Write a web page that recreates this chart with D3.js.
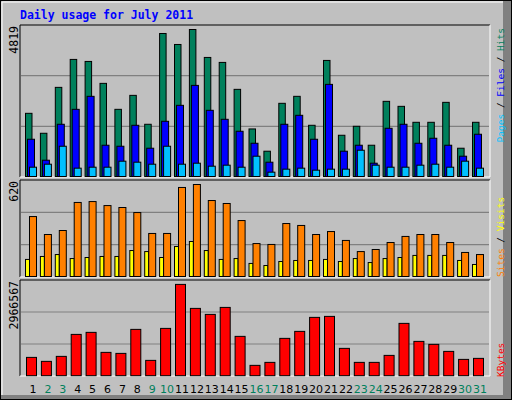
<!DOCTYPE html>
<html><head><meta charset="utf-8">
<script src="https://cdn.jsdelivr.net/npm/d3@7"></script>
<style>body{margin:0;background:#fff}</style></head>
<body><svg id="c" width="512" height="400"></svg>
<script>
const days = d3.range(1, 32);
const weekend = [2,3,9,10,16,17,23,24,30,31];
const hits = [2071,1417,2922,3838,3772,3053,2202,2660,1712,4688,4328,4819,3903,3740,2857,1559,829,2399,2628,1679,3805,1352,1646,1025,2464,2300,1777,1777,2431,927,1777];
const files = [1221,534,1712,2202,2628,1025,992,1679,927,1810,2333,2987,2170,1875,1483,1090,469,1712,2006,1221,3020,829,1025,436,1581,1712,1090,1254,1025,665,1385];
const pages = [305,403,992,273,305,305,502,469,403,992,403,436,338,371,305,665,142,240,273,207,240,240,861,371,305,305,371,403,305,502,273];
const visits = [404,283,310,499,505,478,465,431,290,290,600,620,512,492,377,222,216,357,344,283,303,243,168,182,229,270,283,283,229,162,148];
const sites = [115,135,148,121,128,135,135,175,168,128,202,236,175,115,121,88,74,101,108,108,115,101,121,94,121,128,142,142,142,108,81];
const kbytes = [595000,466000,628000,1342000,1408000,758000,725000,1505000,498000,1537000,2966567,2187000,1992000,2219000,1278000,336000,433000,1213000,1440000,1895000,1927000,888000,433000,433000,660000,1700000,1115000,1018000,790000,530000,563000];
const maxLabels = ["4819","620","2966567"];

const svg = d3.select("#c");
// frame
svg.append("rect").attr("x",0.5).attr("y",0.5).attr("width",511).attr("height",399).attr("fill","#c0c0c0").attr("stroke","#000");
svg.append("rect").attr("x",503).attr("y",1).attr("width",8).attr("height",398).attr("fill","#808080");
svg.append("rect").attr("x",1).attr("y",395).attr("width",510).attr("height",4).attr("fill","#808080");
svg.append("path").attr("d","M2,395V2H503").attr("stroke","#fff").attr("fill","none");
svg.append("text").attr("x",20).attr("y",19).text("Daily usage for July 2011")
  .attr("font-family","DejaVu Sans Mono").attr("font-weight","bold").attr("font-size",11.5).attr("fill","#0000ff");

const x = d3.scaleLinear().domain([1,31]).range([33,480]);
const panels = [
  {top:25,bottom:177,base:176.5,h:147,max:4819},
  {top:180,bottom:277,base:276.5,h:92,max:620},
  {top:280,bottom:376,base:375.7,h:91.3,max:2966567}
];
panels.forEach((p,i)=>{
  svg.append("rect").attr("x",20).attr("y",p.top).attr("width",470).attr("height",p.bottom-p.top).attr("fill","#c0c0c0");
  const g3=(p.bottom-p.top)/3;
  [1,2].forEach(k=>svg.append("line").attr("x1",21).attr("x2",489).attr("y1",p.top+g3*k).attr("y2",p.top+g3*k).attr("stroke","#808080").attr("stroke-width",1.2));
  svg.append("path").attr("d",`M20,${p.bottom}V${p.top}H490`).attr("stroke","#000").attr("fill","none");
  svg.append("path").attr("d",`M490,${p.top}V${p.bottom}H20`).attr("stroke","#fff").attr("fill","none");
  p.y = d3.scaleLinear().domain([0,p.max]).range([p.base,p.base-p.h]);
  svg.append("text").attr("transform",`translate(18,${p.top+1}) rotate(-90)`).attr("text-anchor","end")
    .attr("font-family","DejaVu Sans Mono").attr("font-size",11.5).attr("fill","#000").text(maxLabels[i]);
});

function bars(data, p, off, w, color){
  svg.append("g").selectAll("rect").data(data).join("rect")
    .attr("x",(d,i)=>x(days[i])+off).attr("width",w)
    .attr("y",d=>p.y(d)).attr("height",d=>p.base-p.y(d))
    .attr("fill",color).attr("stroke","#000").attr("stroke-width",1);
}
bars(hits,panels[0],-7.5,6.5,"#00805c");
bars(files,panels[0],-5.5,7,"#0000ff");
bars(pages,panels[0],-3.5,7,"#00c0ff");
bars(sites,panels[1],-7.5,4,"#ffff00");
bars(visits,panels[1],-3.5,7,"#ff8000");
bars(kbytes,panels[2],-6.5,10,"#ff0000");

svg.append("g").selectAll("text").data(days).join("text")
  .attr("x",d=>x(d)).attr("y",393).attr("text-anchor","middle")
  .attr("font-family","DejaVu Sans").attr("font-size",11)
  .attr("fill",d=>weekend.includes(d)?"#00805c":"#000").text(d=>d);

function rlabel(y, anchor, parts){
  const t=svg.append("text").attr("transform",`translate(504,${y}) rotate(-90)`).attr("text-anchor",anchor)
    .attr("font-family","DejaVu Sans Mono").attr("font-size",9.5);
  parts.forEach(([s,c])=>t.append("tspan").attr("fill",c).text(s));
}
rlabel(28,"end",[["Pages","#00c0ff"],[" / ","#000"],["Files","#0000ff"],[" / ","#000"],["Hits","#00805c"]]);
rlabel(277,"start",[["Sites","#ff8000"],[" / ","#000"],["Visits","#ffff00"]]);
rlabel(377,"start",[["KBytes","#ff0000"]]);
</script></body></html>
